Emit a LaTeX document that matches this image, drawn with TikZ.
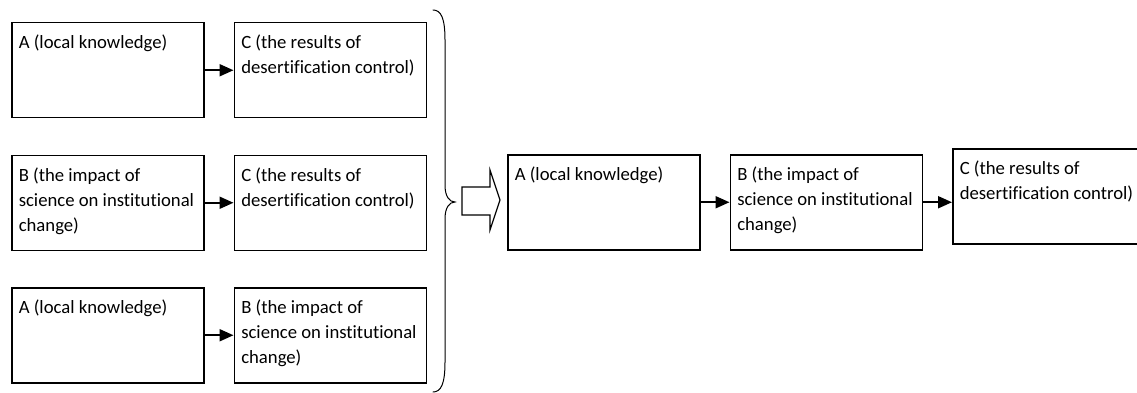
\documentclass[tikz,border=0pt]{standalone}
\usepackage{fontspec}
\setmainfont{Carlito}[Ligatures=NoCommon]
\usepackage{tikz}
\usetikzlibrary{arrows.meta, positioning}
\newcommand{\boxtxt}[2][178pt]{\parbox[c][70pt][t]{#1}{\raggedright #2}}
\tikzset{
    box/.style={rectangle, draw, line width=1.5pt, minimum width=192pt, minimum height=95pt, inner sep=0pt, font=\fontsize{18.7}{25}\selectfont},
    arrow/.style={line width=2pt, -{Triangle[length=14pt, width=12pt]}},
    brace/.style={line width=1pt, line cap=round},
    hollow/.style={draw, line width=1.2pt, fill=white}
}
\begin{document}
\begin{tikzpicture}[x=1pt, y=-1pt, node distance=29pt]
        \useasboundingbox (0,0) rectangle (1137,393);
        \clip (0,0) rectangle (1137,393);

        % Three pairs
        \node (A1) [box, anchor=north west] at (11,22) {\boxtxt{A (local knowledge)}};
        \node (C1) [box, right=of A1] {\boxtxt{C (the results of\\ desertification control)}};
        \node (B2) [box, below=36pt of A1] {\boxtxt{B (the impact of\\ science on institutional\\ change)}};
        \node (C2) [box, right=of B2] {\boxtxt{C (the results of\\ desertification control)}};
        \node (A3) [box, below=36pt of B2] {\boxtxt{A (local knowledge)}};
        \node (B3) [box, right=of A3] {\boxtxt{B (the impact of\\ science on institutional\\ change)}};

        \draw [arrow] (A1) -- (C1);
        \draw [arrow] (B2) -- (C2);
        \draw [arrow] (A3) -- (B3);

        % Brace
        \coordinate (tip) at (455,202);
        \draw [brace] (433,10) .. controls (441,10) and (445,18) .. (445,40) -- (445,185)
            .. controls (445,196) and (449,202) .. (tip)
            .. controls (449,202) and (445,208) .. (445,219) -- (445,362)
            .. controls (445,384) and (441,392) .. (433,392);

        % Hollow arrow
        \draw [hollow] (462,187) -- (490,187) -- (490,170) -- (500,200) -- (490,230) -- (490,215) -- (462,215) -- cycle;

        % Chain
        \node (A) [box, anchor=north west] at (507,154) {\boxtxt{A (local knowledge)}};
        \node (B) [box, right=of A] {\boxtxt{B (the impact of\\ science on institutional\\ change)}};
        \node (C) [box, right=of B, yshift=6pt, minimum width=215pt, anchor=west] {\boxtxt[201pt]{C (the results of\\ desertification control)}};

        \draw [arrow] (A) -- (B);
        \draw [arrow] (B.east) -- (B.east -| C.west);
    \end{tikzpicture}
\end{document}
